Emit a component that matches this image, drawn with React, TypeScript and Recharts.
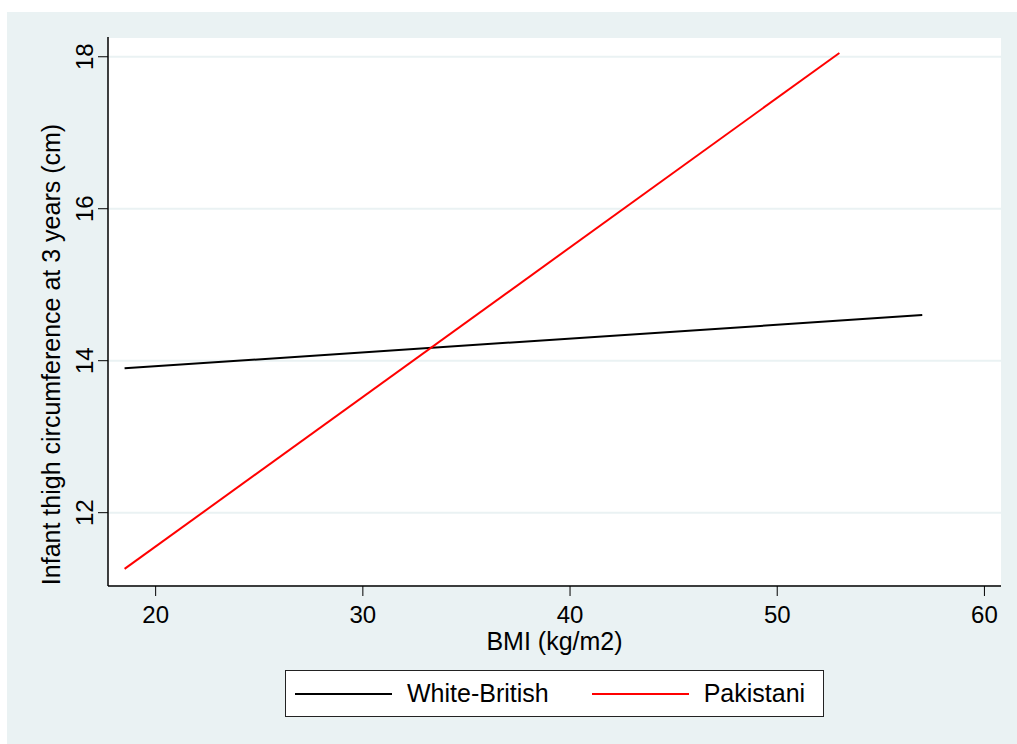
import { CartesianGrid, Line, LineChart, XAxis, YAxis } from "recharts";

const FONT = '"Liberation Sans", Arial, sans-serif';
const BG = "#eaf2f3";

const X_TICKS = [20, 30, 40, 50, 60];
const Y_TICKS = [12, 14, 16, 18];

// fitted lines, read at their end points
const WHITE_BRITISH = [
  { bmi: 18.5, thigh: 13.9 },
  { bmi: 57, thigh: 14.6 },
];
const PAKISTANI = [
  { bmi: 18.5, thigh: 11.26 },
  { bmi: 53, thigh: 18.05 },
];

const SERIES = [
  { name: "White-British", color: "#000000", data: WHITE_BRITISH },
  { name: "Pakistani", color: "#ff0000", data: PAKISTANI },
];

function XTick({ x, y, payload }: any) {
  return (
    <text x={x} y={y + 25} textAnchor="middle" fontSize={24} fontFamily={FONT} fill="#000">
      {payload.value}
    </text>
  );
}

function YTick({ x, y, payload }: any) {
  return (
    <text
      x={x - 3}
      y={y}
      textAnchor="middle"
      fontSize={24}
      fontFamily={FONT}
      fill="#000"
      transform={`rotate(-90 ${x - 3} ${y})`}
    >
      {payload.value}
    </text>
  );
}

function YTitle() {
  return (
    <text
      x={59.5}
      y={354.5}
      textAnchor="middle"
      fontSize={25}
      fontFamily={FONT}
      fill="#000"
      transform="rotate(-90 59.5 354.5)"
    >
      Infant thigh circumference at 3 years (cm)
    </text>
  );
}

function LegendBox() {
  return (
    <div
      style={{
        position: "absolute",
        left: 285,
        top: 670,
        width: 537,
        height: 45,
        border: "1px solid #222",
        background: "#fff",
        display: "flex",
        alignItems: "center",
        fontFamily: FONT,
        fontSize: 25,
        color: "#000",
      }}
    >
      {SERIES.map((s, i) => (
        <div key={s.name} style={{ display: "flex", alignItems: "center", marginLeft: i === 0 ? 9 : 43 }}>
          <div style={{ width: 97, height: 2, background: s.color }} />
          <span style={{ marginLeft: 15 }}>{s.name}</span>
        </div>
      ))}
    </div>
  );
}

export default function App() {
  return (
    <div style={{ position: "absolute", left: 0, top: 0, width: 1017, height: 744, background: "#fff" }}>
      <div style={{ position: "absolute", left: 7, top: 12, width: 1010, height: 732, background: BG }} />
      <div style={{ position: "absolute", left: 0, top: 0 }}>
        <LineChart width={1017} height={744} margin={{ top: 37, right: 16, left: 0, bottom: 0 }}>
          <CartesianGrid vertical={false} stroke={BG} strokeWidth={2} fill="#fff" />
          <XAxis
            type="number"
            dataKey="bmi"
            domain={[17.7, 60.8]}
            ticks={X_TICKS}
            allowDataOverflow
            height={158}
            tickSize={10}
            tickLine={{ stroke: "#000" }}
            axisLine={{ stroke: "#000", strokeWidth: 1.5 }}
            tick={<XTick />}
            label={{
              value: "BMI (kg/m2)",
              position: "insideTop",
              offset: 46,
              style: { fontSize: 25, fontFamily: FONT, fill: "#000" },
            }}
          />
          <YAxis
            type="number"
            domain={[11.035, 18.26]}
            ticks={Y_TICKS}
            allowDataOverflow
            width={108}
            tickSize={10}
            tickLine={{ stroke: "#000" }}
            axisLine={{ stroke: "#000", strokeWidth: 1.5 }}
            tick={<YTick />}
            label={{ content: () => <YTitle /> }}
          />
          {SERIES.map((s) => (
            <Line
              key={s.name}
              data={s.data}
              dataKey="thigh"
              name={s.name}
              type="linear"
              stroke={s.color}
              strokeWidth={2}
              dot={false}
              activeDot={false}
              isAnimationActive={false}
            />
          ))}
        </LineChart>
      </div>
      <LegendBox />
    </div>
  );
}
